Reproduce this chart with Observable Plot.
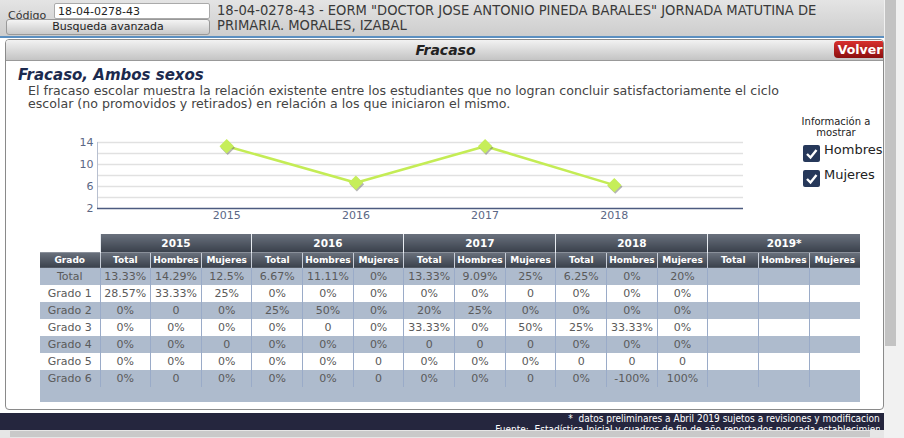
<!DOCTYPE html>
<html><head><meta charset="utf-8">
<script src="https://cdn.jsdelivr.net/npm/d3@7"></script>
<script src="https://cdn.jsdelivr.net/npm/@observablehq/plot@0.6"></script>
<style>
*{box-sizing:border-box}
body{margin:0;width:904px;height:438px;overflow:hidden;background:#fff;font-family:"DejaVu Sans",Verdana,sans-serif;position:relative}
.abs{position:absolute}
#top{left:0;top:0;width:884px;height:38px;background:linear-gradient(#e4e4e4,#cdcdcd);border-bottom:2px solid #5b8fc0}
#cod{left:8px;top:9px;font-size:11px;color:#333}
#inp{left:54px;top:3px;width:156px;height:16px;background:#fff;border:1px solid #aaa;border-radius:2px;font-size:11px;padding:1px 3px;color:#222}
#btn{left:6px;top:19px;width:204px;height:16px;background:linear-gradient(#f4f4f4,#c9c9c9);border:1px solid #999;border-radius:3px;font-size:11px;text-align:center;line-height:14px;color:#222}
#ttl{left:217px;top:2px;width:660px;font-size:14.6px;line-height:15px;color:#3a3a3a;font-family:"DejaVu Sans Condensed","DejaVu Sans",sans-serif;white-space:nowrap}
#panel{left:5px;top:39px;width:879px;height:371px;border:1px solid #8a8a8a;border-radius:4px;background:#fff;overflow:hidden}
#phead{left:0;top:0;width:879px;height:21px;background:linear-gradient(#f2f2f2,#c4c4c4);border-bottom:1px solid #999;text-align:center;font-weight:bold;font-style:italic;font-size:14px;line-height:21px;color:#222}
#volver{left:828px;top:1px;width:52px;height:17px;background:linear-gradient(#d8302e,#8c0f0f);border-radius:4px 0 0 4px;color:#fff;font-weight:bold;font-size:12.5px;line-height:17px;text-align:center}
#h2{left:18px;top:66px;font-size:15px;font-weight:bold;font-style:italic;color:#1c2a4e}
#desc{left:28px;top:84px;font-size:12.6px;line-height:13px;color:#444;white-space:nowrap}
#info{left:796px;top:116px;width:80px;text-align:center;font-size:10px;line-height:11px;color:#222}
.cb{width:17px;height:17px;background:#26385a;border-radius:2px}
.cb svg{display:block}
.cbl{font-size:13px;color:#222}
#chart{left:60px;top:125px}
table{position:absolute;left:40px;top:234px;border-collapse:collapse;table-layout:fixed;width:820px;font-size:11px}
td,th{padding:0;text-align:center;white-space:nowrap;overflow:hidden}
th{color:#fff;font-weight:bold;background:linear-gradient(#6a717d,#3a414c)}
tr.yr th{height:18px;font-size:10.5px;border-left:1px solid #e8ecf2}
tr.yr th.blank{background:#fff;border:none}
tr.sub th{height:16px;font-size:9px;border-left:1px solid #c8ced8;border-top:1px solid #8a909a}
td{height:17px;color:#5a5a5a;font-size:11px;border-left:1px solid #9aabc8}
tr.g td{background:#aebbcd}
tr.w td{background:#fff}
tr.pad td{height:15px;background:#aebbcd;border:none}
#foot{left:0;top:413px;width:880px;height:17px;background:#25263e;overflow:hidden}
#foottxt{position:absolute;right:-10px;top:1px;color:#fff;font-family:"Liberation Sans Narrow","DejaVu Sans Condensed",sans-serif;font-size:10px;line-height:10.5px;text-align:right;white-space:nowrap}
#footR{left:880px;top:413px;width:4px;height:17px;background:#25263e}
#hscroll{left:0;top:430px;width:884px;height:8px;background:#e6e6e6}
#hthumb{left:10px;top:431px;width:860px;height:6px;background:#c9c9c9}
#vscroll{left:884px;top:0;width:20px;height:438px;background:#f1f1f1}
#vthumb{left:885px;top:0;width:11px;height:346px;background:#c3c3c3}
</style></head>
<body>
<div id="top" class="abs"></div>
<div id="cod" class="abs">Código</div>
<div id="inp" class="abs">18-04-0278-43</div>
<div id="btn" class="abs">Busqueda avanzada</div>
<div id="ttl" class="abs">18-04-0278-43 - EORM "DOCTOR JOSE ANTONIO PINEDA BARALES" JORNADA MATUTINA DE<br>PRIMARIA. MORALES, IZABAL</div>
<div id="panel" class="abs">
  <div id="phead" class="abs">Fracaso</div>
  <div id="volver" class="abs">Volver</div>
</div>
<div id="h2" class="abs">Fracaso, Ambos sexos</div>
<div id="desc" class="abs">El fracaso escolar muestra la relación existente entre los estudiantes que no logran concluir satisfactoriamente el ciclo<br>escolar (no promovidos y retirados) en relación a los que iniciaron el mismo.</div>
<div id="info" class="abs">Información a<br>mostrar</div>
<div class="abs cb" style="left:803px;top:145px"><svg width="17" height="17"><path d="M4 9 L7.5 12.5 L13.5 5" stroke="#fff" stroke-width="2.4" fill="none"/></svg></div>
<div class="abs cbl" style="left:824px;top:142px">Hombres</div>
<div class="abs cb" style="left:803px;top:170px"><svg width="17" height="17"><path d="M4 9 L7.5 12.5 L13.5 5" stroke="#fff" stroke-width="2.4" fill="none"/></svg></div>
<div class="abs cbl" style="left:824px;top:167px">Mujeres</div>
<div id="chart" class="abs"></div>
<div id="tbl"></div>
<div id="foot" class="abs"><div id="foottxt">*&nbsp; datos preliminares a Abril 2019 sujetos a revisiones y modificaciones<br>Fuente:&nbsp; Estadística Inicial y cuadros de fin de año reportados por cada establecimiento</div></div>
<div id="vscroll" class="abs"></div>
<div id="vthumb" class="abs"></div>
<div id="footR" class="abs"></div>
<div id="hscroll" class="abs"></div>
<div id="hthumb" class="abs"></div>
<script>
// ---- chart data ----
const years = [2015, 2016, 2017, 2018];
const fracasoTotal = [13.33, 6.67, 13.33, 6.25];
const yTicks = [2, 6, 10, 14];
const yGrid = [4, 6, 8, 10, 12, 14];
const xDomain = [2014, 2019];
const yDomain = [2, 14];

// ---- table data ----
const tableYears = ["2015", "2016", "2017", "2018", "2019*"];
const subCols = ["Total", "Hombres", "Mujeres"];
const grados = ["Total", "Grado 1", "Grado 2", "Grado 3", "Grado 4", "Grado 5", "Grado 6"];
const rowTotal = ["13.33%","14.29%","12.5%","6.67%","11.11%","0%","13.33%","9.09%","25%","6.25%","0%","20%","","",""];
const rowG1 = ["28.57%","33.33%","25%","0%","0%","0%","0%","0%","0","0%","0%","0%","","",""];
const rowG2 = ["0%","0","0%","25%","50%","0%","20%","25%","0%","0%","0%","0%","","",""];
const rowG3 = ["0%","0%","0%","0%","0","0%","33.33%","0%","50%","25%","33.33%","0%","","",""];
const rowG4 = ["0%","0%","0","0%","0%","0%","0","0","0","0%","0%","0%","","",""];
const rowG5 = ["0%","0%","0%","0%","0%","0","0%","0%","0%","0","0","0","","",""];
const rowG6 = ["0%","0","0%","0%","0%","0","0%","0%","0","0%","-100%","100%","","",""];
const rows = [rowTotal, rowG1, rowG2, rowG3, rowG4, rowG5, rowG6];

const data = years.map((y, i) => ({year: y, rate: fracasoTotal[i]}));

const chart = Plot.plot({
  width: 700, height: 100,
  marginLeft: 37, marginRight: 17, marginTop: 17, marginBottom: 17,
  x: {type: "linear", domain: xDomain, label: null},
  y: {domain: yDomain, label: null},
  style: {fontFamily: "DejaVu Sans", fontSize: "11px", color: "#5b6784", background: "transparent", overflow: "visible"},
  marks: [
    Plot.gridY(yGrid, {stroke: "#e1e1e1", strokeOpacity: 1, strokeWidth: 1.6}),
    Plot.ruleX([xDomain[0]], {stroke: "#b8c0d0", strokeWidth: 1}),
    Plot.ruleY([yDomain[0]], {stroke: "#4c5b80", strokeWidth: 1.6}),
    Plot.axisY({ticks: yTicks, tickSize: 0, tickPadding: 4, label: null}),
    Plot.axisX({ticks: years, tickSize: 0, tickPadding: 3, tickFormat: d => String(d), label: null}),
    Plot.line(data, {x: "year", y: "rate", stroke: "#c4ec55", strokeWidth: 2.6}),
    Plot.dot(data, {x: "year", y: "rate", symbol: "diamond2", r: 6.5, fill: "#777", fillOpacity: 0.55, dx: 1, dy: 1.5}),
    Plot.dot(data, {x: "year", y: "rate", symbol: "diamond2", r: 6.5, fill: "#c6ee5a"})
  ]
});
document.getElementById("chart").appendChild(chart);

// ---- table ----
let html = '<table><colgroup><col style="width:60px">' + tableYears.map(() => subCols.map(() => '<col>').join('')).join('') + '</colgroup>';
html += '<tr class="yr"><th class="blank"></th>' + tableYears.map(y => `<th colspan="3">${y}</th>`).join('') + '</tr>';
html += '<tr class="sub"><th style="border-left:none">Grado</th>' + tableYears.map(() => subCols.map(c => `<th>${c}</th>`).join('')).join('') + '</tr>';
rows.forEach((r, i) => {
  html += `<tr class="${i % 2 === 0 ? 'g' : 'w'}"><td style="border-left:none">${grados[i]}</td>` + r.map(v => `<td>${v}</td>`).join('') + '</tr>';
});
html += '<tr class="pad"><td colspan="16"></td></tr></table>';
document.getElementById("tbl").innerHTML = html;
</script>
</body></html>
